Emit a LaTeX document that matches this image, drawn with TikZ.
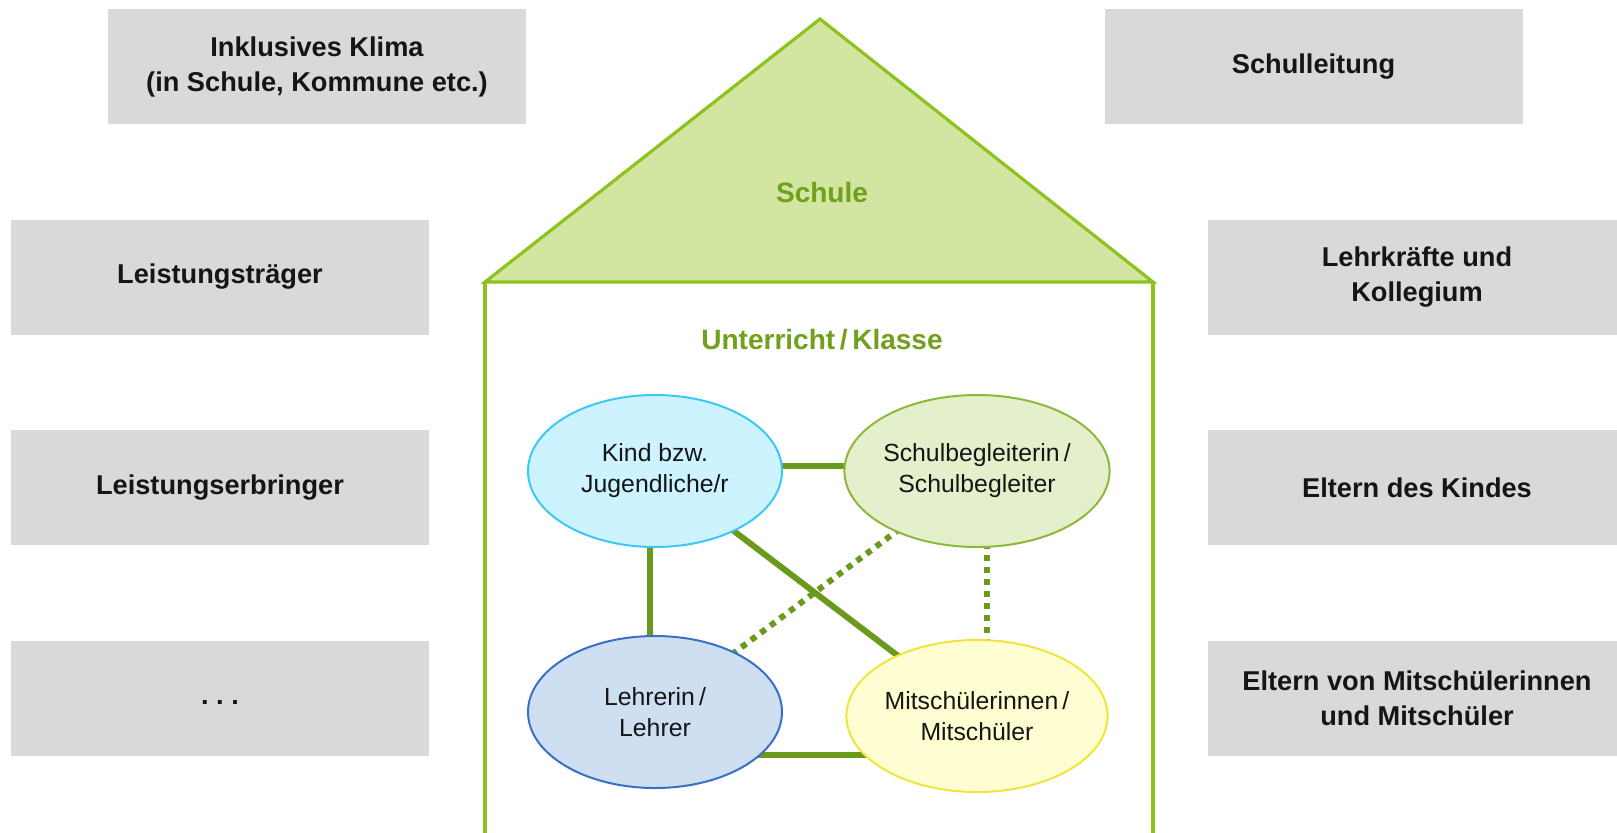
\documentclass[tikz,border=0pt]{standalone}
\usepackage{fontspec}
\setmainfont{Liberation Sans}
\usetikzlibrary{shapes.geometric,backgrounds,calc}
\definecolor{boxgray}{HTML}{D9D9D9}
\definecolor{txtblack}{HTML}{151515}
\definecolor{roofgreen}{HTML}{D3E6A1}
\definecolor{housegreen}{HTML}{8DC31F}
\definecolor{labelgreen}{HTML}{70A01C}
\definecolor{linkgreen}{HTML}{6B991C}
\definecolor{kindfill}{HTML}{CCF3FF}
\definecolor{kinddraw}{HTML}{3CC8F5}
\definecolor{sbfill}{HTML}{E4F0CB}
\definecolor{sbdraw}{HTML}{8DB83A}
\definecolor{lfill}{HTML}{CEDFF1}
\definecolor{ldraw}{HTML}{3A70C4}
\definecolor{mfill}{HTML}{FFFDD2}
\definecolor{mdraw}{HTML}{F2E43A}
\tikzset{
  graybox/.style={rectangle, fill=boxgray, draw=none, minimum width=209pt, minimum height=57.5pt,
    inner sep=0pt, align=center, text=txtblack, font=\fontsize{13.6}{17.5}\selectfont\bfseries},
  person/.style={ellipse, inner sep=0pt, minimum width=127pt, minimum height=76pt, line width=1pt,
    align=center, text=txtblack, font=\fontsize{12.4}{15.5}\selectfont},
  greenlabel/.style={text=labelgreen, font=\fontsize{14}{17}\selectfont\bfseries},
  solidlink/.style={draw=linkgreen, line width=3pt},
  dottedlink/.style={draw=linkgreen, line width=3pt, dash pattern=on 3pt off 3pt},
  housepath/.style={draw=housegreen, line width=1.6pt, line join=miter}
}
\begin{document}
\begin{tikzpicture}[x=0.5pt,y=-0.5pt]
\useasboundingbox (0,0) rectangle (1617,832);
\clip (0,0) rectangle (1617,832);

% house
\coordinate (apex) at (820,19);
\coordinate (rl) at (485,282);
\coordinate (rr) at (1153,282);
\coordinate (wl) at (485,845);
\coordinate (wr) at (1153,845);
\filldraw[housepath, fill=roofgreen] (rl) -- (apex) -- (rr) -- cycle;
\draw[housepath] (rl) -- (wl);
\draw[housepath] (rr) -- (wr);
\node[greenlabel] (schule) at (822,192) {Schule};
\node[greenlabel] (unterricht) at (822,340) {Unterricht\,/\,Klasse};

% gray boxes
\node[graybox] (klima) at (317,66.5) {Inklusives Klima\\(in Schule, Kommune etc.)};
\node[graybox] (leitung) at (1313.5,66.5) {Schulleitung};
\node[graybox] (traeger) at (220,277) {Leistungsträger};
\node[graybox] (erbringer) at (220,487.5) {Leistungserbringer};
\node[graybox] (dots) at (220,698) {\raisebox{-6pt}{.\ .\ .}};
\node[graybox] (lehrkraefte) at (1417,277) {Lehrkräfte und\\Kollegium};
\node[graybox] (eltern) at (1417,487.5) {Eltern des Kindes};
\node[graybox] (elternm) at (1417,698) {Eltern von Mitschülerinnen\\und Mitschüler};

% persons
\node[person, fill=kindfill, draw=kinddraw] (kind) at (655,471) {Kind bzw.\\Jugendliche/r};
\node[person, fill=sbfill, draw=sbdraw] (sb) at (977,471) {Schulbegleiterin\,/\\Schulbegleiter};
\node[person, fill=lfill, draw=ldraw] (lehrer) at (655,712) {Lehrerin\,/\\Lehrer};
\node[person, fill=mfill, draw=mdraw] (mit) at (977,716) {Mitschülerinnen\,/\\Mitschüler};

% connectors
\begin{scope}[on background layer]
\draw[solidlink] ([yshift=2.5pt]kind.center) -- ([yshift=2.5pt]sb.center);
\draw[solidlink] ([xshift=-2.5pt]kind.center) -- ([xshift=-2.5pt]lehrer.center);
\draw[solidlink] (kind.center) -- (mit.center);
\draw[dottedlink] (lehrer.center) -- (sb.center);
\draw[dottedlink] ([xshift=5pt]sb.center) -- ([xshift=5pt]mit.center);
\draw[solidlink] ([yshift=-21.5pt]lehrer.center) -- ([yshift=-21.5pt]lehrer.center -| mit.center);
\end{scope}
\end{tikzpicture}
\end{document}
